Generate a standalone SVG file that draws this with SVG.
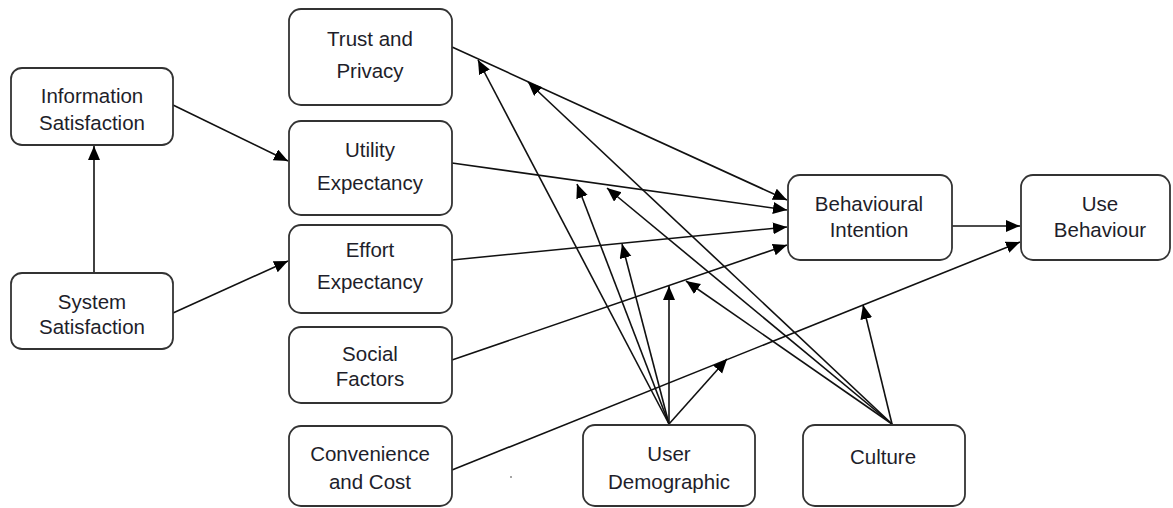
<svg xmlns="http://www.w3.org/2000/svg" width="1173" height="508" viewBox="0 0 1173 508">
<style>
.box{fill:#fff;stroke:#333;stroke-width:1.8}
.lbl{font-family:"Liberation Sans",Arial,sans-serif;font-size:20.5px;fill:#1e1e2a;text-anchor:middle}
.c{stroke:#111;stroke-width:1.6;fill:none;marker-end:url(#ah)}
</style>
<defs>
<marker id="ah" markerUnits="userSpaceOnUse" markerWidth="16" markerHeight="14" refX="14" refY="6" orient="auto">
<path d="M0,0 L14,6 L0,12 z" fill="#000"/>
</marker>
</defs>
<rect width="1173" height="508" fill="#fff"/>
<g id="connectors">
<line class="c" x1="94" y1="273" x2="94" y2="146"/>
<line class="c" x1="173" y1="105" x2="288" y2="161"/>
<line class="c" x1="173" y1="313" x2="288" y2="261"/>
<line class="c" x1="452" y1="47" x2="787" y2="200"/>
<line class="c" x1="452" y1="163" x2="787" y2="210"/>
<line class="c" x1="452" y1="260" x2="787" y2="227"/>
<line class="c" x1="452" y1="360" x2="787" y2="245"/>
<line class="c" x1="452" y1="470" x2="1020" y2="242"/>
<line class="c" x1="952" y1="226" x2="1020" y2="226"/>
<line class="c" x1="669" y1="424" x2="478" y2="60"/>
<line class="c" x1="669" y1="424" x2="577" y2="184"/>
<line class="c" x1="669" y1="424" x2="622" y2="244"/>
<line class="c" x1="669" y1="424" x2="669" y2="286"/>
<line class="c" x1="669" y1="424" x2="727" y2="359"/>
<line class="c" x1="892" y1="424" x2="528" y2="82"/>
<line class="c" x1="892" y1="424" x2="607" y2="188"/>
<line class="c" x1="892" y1="424" x2="686" y2="281"/>
<line class="c" x1="892" y1="424" x2="863" y2="305"/>
</g>
<g id="information-satisfaction">
<rect class="box" x="11" y="68" width="162" height="77" rx="11"/>
<text class="lbl" x="92" y="103">Information</text>
<text class="lbl" x="92" y="130">Satisfaction</text>
</g>
<g id="system-satisfaction">
<rect class="box" x="11" y="273" width="162" height="76" rx="11"/>
<text class="lbl" x="92" y="309">System</text>
<text class="lbl" x="92" y="334">Satisfaction</text>
</g>
<g id="trust-privacy">
<rect class="box" x="289" y="9" width="163" height="96" rx="12"/>
<text class="lbl" x="370" y="46">Trust and</text>
<text class="lbl" x="370" y="78">Privacy</text>
</g>
<g id="utility-expectancy">
<rect class="box" x="289" y="121" width="163" height="94" rx="12"/>
<text class="lbl" x="370" y="157">Utility</text>
<text class="lbl" x="370" y="190">Expectancy</text>
</g>
<g id="effort-expectancy">
<rect class="box" x="289" y="225" width="163" height="88" rx="12"/>
<text class="lbl" x="370" y="257">Effort</text>
<text class="lbl" x="370" y="289">Expectancy</text>
</g>
<g id="social-factors">
<rect class="box" x="289" y="327" width="163" height="76" rx="12"/>
<text class="lbl" x="370" y="361">Social</text>
<text class="lbl" x="370" y="386">Factors</text>
</g>
<g id="convenience-cost">
<rect class="box" x="289" y="426" width="163" height="80" rx="12"/>
<text class="lbl" x="370" y="461">Convenience</text>
<text class="lbl" x="370" y="489">and Cost</text>
</g>
<g id="user-demographic">
<rect class="box" x="583" y="425" width="172" height="81" rx="12"/>
<text class="lbl" x="669" y="461">User</text>
<text class="lbl" x="669" y="489">Demographic</text>
</g>
<g id="culture">
<rect class="box" x="803" y="425" width="162" height="81" rx="12"/>
<text class="lbl" x="883" y="464">Culture</text>
</g>
<g id="behavioural-intention">
<rect class="box" x="788" y="175" width="164" height="85" rx="12"/>
<text class="lbl" x="869" y="211">Behavioural</text>
<text class="lbl" x="869" y="237">Intention</text>
</g>
<g id="use-behaviour">
<rect class="box" x="1021" y="175" width="149" height="85" rx="12"/>
<text class="lbl" x="1100" y="211">Use</text>
<text class="lbl" x="1100" y="237">Behaviour</text>
</g>
<circle cx="511" cy="477" r="0.8" fill="#333"/>
</svg>
